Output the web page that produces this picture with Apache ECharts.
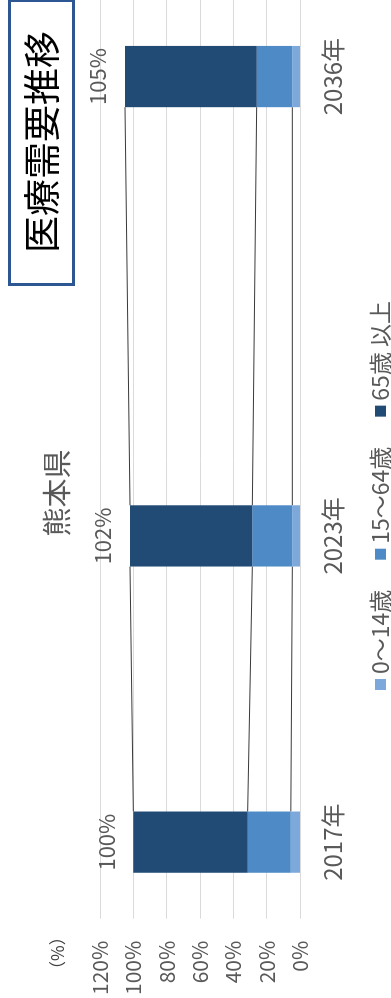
<!DOCTYPE html>
<html>
<head>
<meta charset="utf-8">
<script src="https://cdn.jsdelivr.net/npm/echarts@6/dist/echarts.min.js"></script>
<style>
  html, body { margin: 0; padding: 0; background: #fff; overflow: hidden; width: 391px; height: 998px; }
  /* chart is drawn landscape, then turned a quarter left like the scan */
  #chart {
    position: absolute; left: 0; top: 0;
    width: 998px; height: 391px;
    transform-origin: 0 0;
    transform: translate(0, 998px) rotate(-90deg);
  }
</style>
</head>
<body>
<div id="chart"></div>
<script>
// blank slots keep the uneven spacing between the years
const categories = ["2017年", "", "2023年", "", "", "2036年"];
const age0to14 = [5.5, "-", 4.6, "-", "-", 4.6];
const age15to64 = [25.9, "-", 24.0, "-", "-", 21.4];
const age65plus = [68.6, "-", 73.4, "-", "-", 79.0];
const totalLabels = [100, null, 102, null, null, 105];
const seriesNames = ["0〜14歳", "15〜64歳", "65歳 以上"];
const valueTicks = [0, 20, 40, 60, 80, 100, 120];

const colors = ["#7ca8db", "#4e8ac6", "#214b75"];
const textGrey = "#595959";
const font = '"Noto Sans CJK JP", "Noto Sans", sans-serif';

// series lines join each stack boundary of one bar to the next bar
function buildConnectors() {
  const idx = [];
  categories.forEach((c, i) => { if (c) idx.push(i); });
  const out = [];
  for (let k = 0; k < idx.length - 1; k++) {
    const a = idx[k], b = idx[k + 1];
    out.push([a, b, age0to14[a], age0to14[b]]);
    out.push([a, b, age0to14[a] + age15to64[a], age0to14[b] + age15to64[b]]);
    out.push([a, b, age0to14[a] + age15to64[a] + age65plus[a],
                    age0to14[b] + age15to64[b] + age65plus[b]]);
  }
  return out;
}

const chart = echarts.init(document.getElementById("chart"));

const barSeries = [age0to14, age15to64, age65plus].map((data, i) => ({
  name: seriesNames[i],
  type: "bar",
  stack: "total",
  barWidth: "40%",
  itemStyle: { color: colors[i] },
  data: data,
  label: i === 2 ? {
    show: true,
    position: "top",
    distance: 16,
    color: textGrey,
    fontFamily: font,
    fontSize: 22,
    formatter: (p) => totalLabels[p.dataIndex] + "%"
  } : { show: false }
}));

const option = {
  animation: false,
  backgroundColor: "#fff",
  textStyle: { fontFamily: font },
  title: {
    text: "熊本県",
    left: 500,
    top: 37,
    textAlign: "center",
    textStyle: { color: textGrey, fontSize: 29, fontWeight: "normal", fontFamily: font }
  },
  legend: {
    data: seriesNames,
    left: 303,
    top: 364,
    itemWidth: 11,
    itemHeight: 11,
    itemGap: 30,
    icon: "rect",
    textStyle: { color: textGrey, fontSize: 23, fontFamily: font }
  },
  grid: { left: 73, right: -2, top: 100, bottom: 91 },
  xAxis: {
    type: "category",
    data: categories,
    axisTick: { show: false },
    axisLine: { show: false },
    axisLabel: { interval: 0, margin: 21, color: textGrey, fontSize: 24, fontFamily: font }
  },
  yAxis: {
    type: "value",
    min: valueTicks[0],
    max: valueTicks[valueTicks.length - 1],
    interval: 20,
    axisLabel: { formatter: "{value}%", margin: 22, color: textGrey, fontSize: 21, fontFamily: font },
    splitLine: { lineStyle: { color: "#dadada", width: 1 } },
    axisLine: { show: false },
    axisTick: { show: false }
  },
  graphic: [
    {
      type: "text",
      left: 20,
      top: 49,
      style: { text: "（%）", fill: "#404040", font: '17px "Noto Sans CJK JP"' }
    },
    {
      type: "rect",
      shape: { x: 713.5, y: 9.5, width: 284, height: 64 },
      style: { fill: "#fff", stroke: "#2d5793", lineWidth: 3 },
      z: 10
    },
    {
      type: "text",
      x: 856,
      y: 42,
      style: {
        text: "医療需要推移",
        fill: "#000",
        font: '37px "Noto Sans CJK JP"',
        align: "center",
        verticalAlign: "middle"
      },
      z: 11
    }
  ],
  series: barSeries.concat([{
    type: "custom",
    name: "series-lines",
    silent: true,
    data: buildConnectors(),
    encode: { x: [0, 1], y: [2, 3] },
    renderItem: function (params, api) {
      const a = api.value(0), b = api.value(1);
      const half = api.size([1, 0])[0] * 0.4 / 2;
      const p1 = api.coord([a, api.value(2)]);
      const p2 = api.coord([b, api.value(3)]);
      return {
        type: "line",
        shape: { x1: p1[0] + half, y1: p1[1], x2: p2[0] - half, y2: p2[1] },
        style: { stroke: "#3a3a3a", lineWidth: 1 }
      };
    }
  }])
};

chart.setOption(option);
</script>
</body>
</html>
